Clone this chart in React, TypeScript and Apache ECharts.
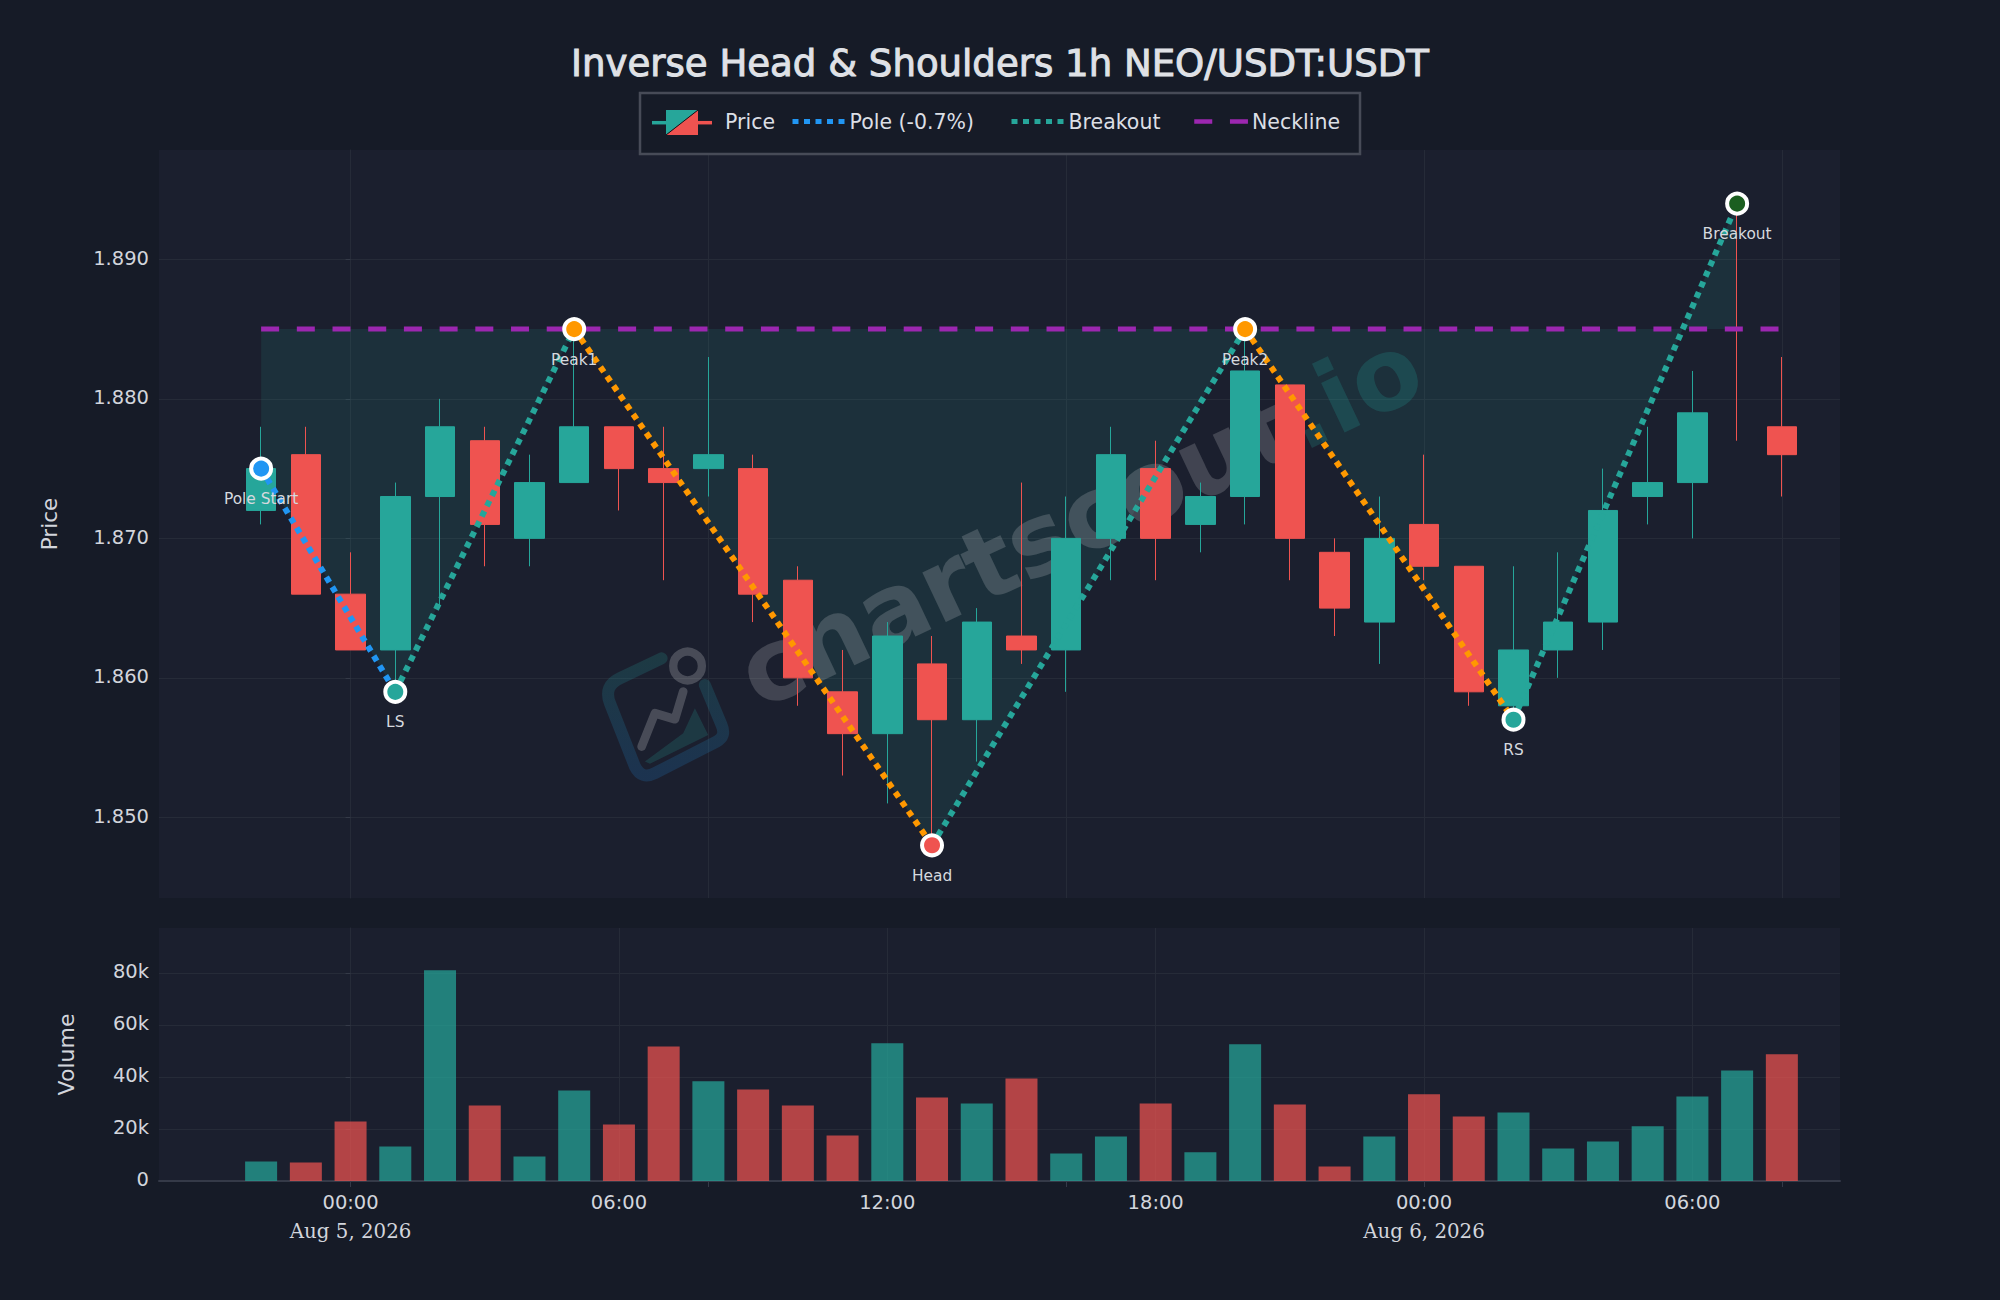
import React, { useEffect, useRef } from "react";
import * as echarts from "echarts";

const TITLE = "Inverse Head & Shoulders 1h NEO/USDT:USDT";
// hours relative to Aug 5, 2026 00:00
const hours = [-2,-1,0,1,2,3,4,5,6,7,8,9,10,11,12,13,14,15,16,17,18,19,20,21,22,23,24,25,26,27,28,29,30,31,32];
const opens = [1.872,1.876,1.866,1.862,1.873,1.877,1.870,1.874,1.878,1.875,1.875,1.875,1.867,1.859,1.856,1.861,1.857,1.863,1.862,1.870,1.875,1.871,1.873,1.881,1.869,1.864,1.871,1.868,1.858,1.862,1.864,1.873,1.874,1.877,1.878];
const closes = [1.875,1.866,1.862,1.873,1.878,1.871,1.874,1.878,1.875,1.874,1.876,1.866,1.860,1.856,1.863,1.857,1.864,1.862,1.870,1.876,1.870,1.873,1.882,1.870,1.865,1.870,1.868,1.859,1.862,1.864,1.872,1.874,1.879,1.877,1.876];
const lows = [1.871,1.866,1.862,1.859,1.865,1.868,1.868,1.874,1.872,1.867,1.873,1.864,1.858,1.853,1.851,1.848,1.854,1.861,1.859,1.867,1.867,1.869,1.871,1.867,1.863,1.861,1.867,1.858,1.857,1.860,1.862,1.871,1.870,1.877,1.873];
const highs = [1.878,1.878,1.869,1.874,1.880,1.878,1.876,1.885,1.878,1.878,1.883,1.876,1.868,1.862,1.864,1.863,1.865,1.874,1.873,1.878,1.877,1.874,1.885,1.881,1.870,1.873,1.876,1.868,1.868,1.869,1.875,1.878,1.882,1.894,1.883];
const volumes = [7500,7100,22900,13300,81000,29000,9400,34800,21700,51700,38300,35200,29000,17500,52900,32100,29800,39400,10600,17100,29800,11000,52500,29400,5600,17100,33300,24800,26300,12500,15200,21000,32500,42500,48700];

const priceTicks = [1.85,1.86,1.87,1.88,1.89];
const volumeTicks = [0,20000,40000,60000,80000];
const priceGridHours = [0,8,16,24,32];
const labelHours = [0,6,12,18,24,30];
const hourLabels = ["00:00","06:00","12:00","18:00","00:00","06:00"];
const dateLabels = ["Aug 5, 2026","","","","Aug 6, 2026",""];

const NECK = 1.885;
const neckline = [[-2,NECK],[32,NECK]];
const pivotNames = ["Pole Start","LS","Peak1","Head","Peak2","RS","Breakout"];
const pivotHours = [-2,1,5,13,20,26,31];
const pivotPrices = [1.875,1.859,1.885,1.848,1.885,1.857,1.894];
const pivotColors = ["#2196f3","#26a69a","#ff9800","#ef5350","#ff9800","#26a69a","#1b5e20"];

const UP = "#26a69a", DOWN = "#ef5350", BLUE = "#2196f3", ORANGE = "#ff9800", PURPLE = "#9c27b0";
const PAGE = "#161b27", PLOT = "#1b1f2e", GRID = "#262b38", TXT = "#d2d5dc";
const MINH = -4.283, MAXH = 33.3;
const DOT = [6, 5.5];

const pt = (i: number) => [pivotHours[i], pivotPrices[i]];
const legText = { color: "#dcdfe5", fontSize: 20.5, fontFamily: "DejaVu Sans" };

function dotted(name: string, color: string, a: number, b: number) {
  return {
    type: "line", name, xAxisIndex: 0, yAxisIndex: 0, z: 4, symbol: "none", silent: true,
    data: [pt(a), pt(b)], lineStyle: { color, width: 6, type: DOT },
    itemStyle: { color },
  };
}
function singleLegend(name: string, left: number, top: number, iw: number, gap: number, line: any) {
  return {
    show: true, data: [name], left, top, orient: "horizontal", itemWidth: iw, itemHeight: 14, itemGap: 0,
    padding: 0, selectedMode: false, itemStyle: { opacity: 0 }, lineStyle: line,
    textStyle: { ...legText, padding: [0, 0, 0, gap - 5] }, z: 6,
  };
}

echarts.graphic.registerShape("wmFrame", echarts.graphic.extendPath(
  "M245 115 L120 175 Q70 198 90 250 L165 440 Q185 480 225 460 L410 365 Q440 350 425 315 L375 195", {}));

export default function App() {
  const ref = useRef<HTMLDivElement>(null);
  useEffect(() => {
    document.body.style.margin = "0";
    document.body.style.background = PAGE;
    const chart = echarts.init(ref.current!, undefined, { renderer: "svg" });
    const flatIdx = hours.map((_, i) => i).filter((i) => highs[i] !== 1.894);
    const candleData = flatIdx.map((i) => [hours[i], opens[i], closes[i], lows[i], highs[i]]);
    const wickData = hours.map((_, i) => i).filter((i) => highs[i] === 1.894).map((i) => [hours[i], lows[i], lows[i], lows[i], highs[i]]);
    const axisLab = { color: TXT, fontSize: 19.5, fontFamily: "DejaVu Sans" };
    chart.setOption({
      animation: false,
      backgroundColor: PAGE,
      title: { text: TITLE, left: "center", top: 40, textStyle: { color: "#dfe1e6", fontSize: 37.1, fontWeight: "normal", fontFamily: "DejaVu Sans", textBorderColor: "#dfe1e6", textBorderWidth: 1 } },
      legend: [
        singleLegend("Price", 652, 111, 60, 12, { opacity: 0 }),
        singleLegend("Pole (-0.7%)", 790, 111, 53.6, 3.5, { color: BLUE, width: 5, type: DOT }),
        singleLegend("Breakout", 1009, 111, 54, 3, { color: UP, width: 5, type: DOT }),
        singleLegend("Neckline", 1192, 111, 53.7, 4, { color: PURPLE, width: 4.5, type: [18, 17.7] }),
      ],
      grid: [
        { left: 159, top: 150, width: 1681, height: 748, show: true, backgroundColor: PLOT, borderWidth: 0 },
        { left: 159, top: 928, width: 1681, height: 253, show: true, backgroundColor: PLOT, borderWidth: 0 },
      ],
      xAxis: [
        { type: "value", gridIndex: 0, min: MINH, max: MAXH, axisLine: { show: false }, axisLabel: { show: false },
          axisTick: { show: false, customValues: priceGridHours }, splitLine: { show: true, lineStyle: { color: GRID, width: 1 } } },
        { type: "value", gridIndex: 1, min: MINH, max: MAXH, position: "bottom",
          axisLine: { show: true, onZero: false, lineStyle: { color: "#353a48", width: 2 } },
          axisTick: { show: false, customValues: labelHours },
          splitLine: { show: true, lineStyle: { color: GRID, width: 1 } },
          axisLabel: {
            show: true, margin: 7, customValues: labelHours, showMinLabel: true, showMaxLabel: true,
            formatter: (v: number) => {
              const i = labelHours.indexOf(v);
              if (i < 0) return "";
              return dateLabels[i] ? `{t|${hourLabels[i]}}\n{d|${dateLabels[i]}}` : `{t|${hourLabels[i]}}`;
            },
            rich: {
              t: { ...axisLab, lineHeight: 29 },
              d: { color: TXT, fontSize: 19.8, fontFamily: "DejaVu Serif", lineHeight: 29 },
            },
          } },
        { type: "value", gridIndex: 1, min: MINH, max: MAXH, position: "bottom",
          axisLine: { show: false, onZero: false }, axisLabel: { show: false }, splitLine: { show: false },
          axisTick: { show: true, length: 6, customValues: priceGridHours, lineStyle: { color: "#353a48", width: 1 } } },
      ],
      yAxis: [
        { type: "value", gridIndex: 0, min: 1.84422, max: 1.89784, name: "Price", nameLocation: "middle", nameGap: 99,
          nameTextStyle: { color: TXT, fontSize: 21.5, fontFamily: "DejaVu Sans" },
          axisLine: { show: true, lineStyle: { color: GRID } },
          axisTick: { show: true, length: 5, lineStyle: { color: "#353a48" }, customValues: priceTicks },
          splitLine: { show: true, lineStyle: { color: GRID, width: 1 } },
          axisLabel: { margin: 10, customValues: priceTicks, formatter: (v: number) => `{v|${v.toFixed(3)}}`,
            rich: { v: { ...axisLab, padding: [0, 0, 2, 0] } } } },
        { type: "value", gridIndex: 1, min: 0, max: 97200, name: "Volume", nameLocation: "middle", nameGap: 82,
          nameTextStyle: { color: TXT, fontSize: 22, fontFamily: "DejaVu Sans" },
          axisLine: { show: true, lineStyle: { color: GRID } },
          axisTick: { show: true, length: 5, lineStyle: { color: "#353a48" }, customValues: volumeTicks },
          splitLine: { show: true, lineStyle: { color: GRID, width: 1 } },
          axisLabel: { margin: 10, customValues: volumeTicks, formatter: (v: number) => `{v|${v === 0 ? "0" : `${v / 1000}k`}}`,
            rich: { v: { ...axisLab, padding: [0, 0, 3, 0] } } } },
      ],
      series: [
        { type: "line", name: "Pattern Fill", xAxisIndex: 0, yAxisIndex: 0, z: 1, symbol: "none", silent: true,
          data: pivotNames.map((_, i) => pt(i)), lineStyle: { width: 0 }, itemStyle: { color: UP },
          areaStyle: { origin: NECK, color: "rgba(38,166,154,0.18)" } },
        { type: "candlestick", name: "Price", xAxisIndex: 0, yAxisIndex: 0, z: 3, barWidth: 30, data: candleData,
          itemStyle: { color: UP, color0: DOWN, borderColor: UP, borderColor0: DOWN, borderColorDoji: DOWN, borderWidth: 1 } },
        { type: "candlestick", name: "Price", xAxisIndex: 0, yAxisIndex: 0, z: 3, barWidth: 1, data: wickData,
          itemStyle: { color: DOWN, color0: DOWN, borderColor: DOWN, borderColor0: DOWN, borderColorDoji: DOWN, borderWidth: 1 } },
        dotted("Pole (-0.7%)", BLUE, 0, 1),
        dotted("Breakout", UP, 1, 2),
        dotted("Breakout", UP, 3, 4),
        dotted("Breakout", UP, 5, 6),
        dotted("Reversal", ORANGE, 2, 3),
        dotted("Reversal", ORANGE, 4, 5),
        { type: "line", name: "Neckline", xAxisIndex: 0, yAxisIndex: 0, z: 4, symbol: "none", silent: true,
          data: neckline, lineStyle: { color: PURPLE, width: 5, type: [18, 17.7] }, itemStyle: { color: PURPLE } },
        { type: "scatter", name: "Pivots", xAxisIndex: 0, yAxisIndex: 0, z: 5, symbolSize: 20, silent: true,
          data: pivotNames.map((n, i) => ({
            name: n, value: pt(i),
            itemStyle: { color: pivotColors[i], borderColor: "#ffffff", borderWidth: 4, opacity: 1 },
            label: { show: true, position: "bottom", distance: 11, formatter: n, color: "#d6d9df", fontSize: 15.4, fontFamily: "DejaVu Sans" },
          })) },
        { type: "bar", name: "Volume", xAxisIndex: 1, yAxisIndex: 1, barWidth: 32, silent: true,
          data: volumes.map((v, i) => ({ value: [hours[i], v], itemStyle: { color: closes[i] >= opens[i] || highs[i] === 1.894 ? UP : DOWN, opacity: 0.72 } })) },
      ],
      graphic: [
        { type: "text", z: 2, silent: true, rotation: 0.443, x: 1080, y: 520,
          style: { text: "{a|chartscout}{b|.io}", align: "center", verticalAlign: "middle",
            rich: {
              a: { fill: "rgba(255,255,255,0.17)", fontSize: 100, fontWeight: "bold", fontFamily: "DejaVu Sans" },
              b: { fill: "rgba(38,166,154,0.22)", fontSize: 100, fontWeight: "bold", fontFamily: "DejaVu Sans" },
            } } },
        { type: "group", z: 2, silent: true, x: 580, y: 620, scaleX: 1 / 3, scaleY: 1 / 3, children: [
          { type: "wmFrame", z: 2, style: { fill: "none", lineWidth: 36, lineCap: "round", lineJoin: "round",
            stroke: { type: "linear", x: 0, y: 0, x2: 0, y2: 1, colorStops: [{ offset: 0, color: "rgba(38,166,154,0.2)" }, { offset: 1, color: "rgba(33,150,243,0.17)" }] } } },
          { type: "polygon", z: 2, shape: { points: [[195, 425], [310, 340], [345, 265], [385, 345], [210, 432]] }, style: { fill: "rgba(38,166,154,0.2)" } },
          { type: "polyline", z: 2, shape: { points: [[185, 380], [225, 280], [285, 298], [310, 215]] },
            style: { fill: "none", stroke: "rgba(255,255,255,0.2)", lineWidth: 26, lineCap: "round", lineJoin: "round" } },
          { type: "circle", z: 2, shape: { cx: 323, cy: 138, r: 43 }, style: { fill: "none", stroke: "rgba(255,255,255,0.2)", lineWidth: 25 } },
        ] },
        { type: "rect", z: 5, silent: true, shape: { x: 640, y: 93, width: 720, height: 61 }, style: { fill: PAGE, stroke: "#474b57", lineWidth: 2.5 } },
        { type: "group", z: 7, silent: true, children: [
          { type: "line", z: 7, shape: { x1: 652, y1: 122.7, x2: 682, y2: 122.7 }, style: { stroke: UP, lineWidth: 3.5 } },
          { type: "line", z: 7, shape: { x1: 682, y1: 122.7, x2: 712, y2: 122.7 }, style: { stroke: DOWN, lineWidth: 3.5 } },
          { type: "polygon", z: 7, shape: { points: [[666, 110], [698, 110], [666, 135]] }, style: { fill: UP } },
          { type: "polygon", z: 7, shape: { points: [[698, 110], [698, 135], [666, 135]] }, style: { fill: DOWN } },
          { type: "line", z: 7, shape: { x1: 666, y1: 135, x2: 698, y2: 110 }, style: { stroke: "#10131a", lineWidth: 1 } },
        ] },
      ],
    });
    return () => chart.dispose();
  }, []);
  return <div ref={ref} style={{ position: "absolute", left: 0, top: 0, width: 2000, height: 1300 }} />;
}
